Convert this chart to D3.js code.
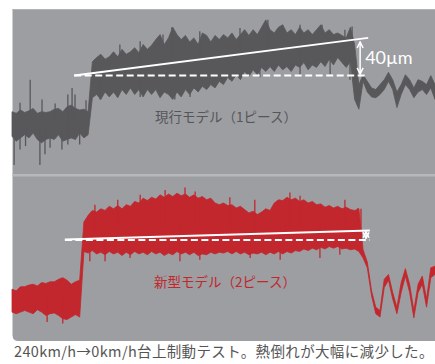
<!DOCTYPE html>
<html>
<head>
<meta charset="utf-8">
<script src="https://cdn.jsdelivr.net/npm/d3@7"></script>
<style>
  body { margin: 0; background: #fff; }
  text { font-family: "Noto Sans CJK JP", "Noto Sans", sans-serif; }
</style>
</head>
<body>
<div id="chart-area"></div>
<script>

var width = 435,
    height = 364;

// time axis is just sample index 0..100 (step 1)
// values are displacement in micrometres, 0 = start level of the braking run

// current model (1 piece): upper / lower edge of the noisy trace
var oldHi = [-44,-46,-42,-45,-43,-40,-46,-44,-45,-44,-41,-40,-44,-38,-36,-40,-42,-41,-44,
  17,22,26,20,23,29,23,32,26,29,34,28,38,32,37,44,50,38,46,59,50,44,49,41,46,38,52,49,41,49,44,
  50,46,52,44,50,56,49,56,50,59,68,56,52,59,62,52,56,50,59,52,56,50,56,62,52,56,50,52,49,46,59,
  38,-11,1,-7,-15,-17,-11,-5,4,-5,-20,-11,1,-5,-15,-5,-7,-11,0,-11];
var oldLo = [-74,-80,-76,-72,-76,-70,-78,-82,-78,-76,-78,-72,-80,-78,-76,-78,-70,-76,-72,
  -27,-23,-29,-20,-26,-20,-27,-17,-23,-15,-23,-17,-26,-17,-23,-17,-27,-20,-23,-29,-20,-26,-17,-23,-15,-20,-13,-17,-11,-15,-7,
  -11,-2,-7,1,-5,5,-1,7,1,10,5,11,5,13,7,11,5,13,10,16,7,13,10,17,11,20,13,22,16,10,17,
  -29,-41,-7,-20,-26,-27,-23,-17,-7,-17,-39,-23,-11,-17,-27,-20,-17,-23,-15,-29];
// thin spikes sticking out of the band [t, value]
var oldSpikes = [[0.5,-109],[1.9,-33],[1.9,-90],[3.2,-86],[4.3,-5],[6.6,-109],[7.1,-29],[7.8,-96],
  [9.0,-88],[10.2,-34],[11.8,-90],[13.2,-23],[13.2,-84],[14.2,-15],[14.9,-23],[16,-84],[17.5,-30],
  [20.8,-29],[25.5,38],[30.3,42],[30.3,-26],[35.7,50],[37.8,59],[38.5,-29],[42.1,-26],[44.4,54],
  [51.5,-5],[53.9,58],[58.6,-2],[60.5,68],[64,60],[68.1,62],[68.1,0],[73.3,62],[75.2,2],
  [78.7,56],[79.9,-5],[80.4,60]];

// new model (2 piece)
var newHi = [-58,-60,-55,-55,-53,-52,-54,-50,-51,-49,-49,-46,-44,-47,-52,-49,-47,
  24,32,38,36,40,38,43,40,44,40,45,43,49,47,53,50,54,52,57,54,58,55,59,56,58,54,57,53,55,51,
  53,47,45,47,44,45,41,43,39,35,37,33,36,40,38,47,51,50,54,51,53,49,51,47,49,45,46,42,44,41,
  43,40,42,39,38,40,
  -10,-25,-60,-80,-84,-46,-40,-62,-80,-50,-33,-52,-84,-52,-42,-70,-32,-30];
var newLo = [-86,-88,-86,-84,-86,-88,-83,-86,-90,-88,-87,-90,-94,-95,-92,-89,-92,
  -12,-14,-11,-15,-13,-16,-12,-15,-13,-17,-13,-16,-12,-15,-13,-16,-12,-15,-13,-17,
  -14,-16,-12,-15,-13,-16,-13,-17,-15,-16,-13,-15,-13,-14,-12,-15,-12,-15,-13,-16,
  -14,-15,-13,-16,-13,-15,-12,-15,-12,-14,-11,-12,-9,-11,-8,-10,-7,-9,-6,-8,
  -6,-9,-8,-10,-9,-12,
  -20,-32,-66,-88,-92,-56,-47,-70,-88,-62,-42,-62,-93,-62,-52,-80,-44,-40];
var newSpikes = [[8.3,-98],[12,-100],[19.6,45],[25,51],[30.3,57],[36.2,63],[40.9,66],[43.3,61],
  [51.5,54],[57.4,51],[65.7,60],[68.1,56],[78.7,51],[81.8,41],[82.5,40],
  [18.4,-24],[22,-24],[27.9,-20],[39.7,-24],[44.4,-22],[56.3,-20],[63.4,-22],[72.8,-20],[77.5,-16]];

// reference lines [t, value]
var oldTrend = [[14.7, 0], [84.2, 46]];
var oldBase  = [[14.7, 0], [84.2, 0]];
var oldGap   = { t: 82.3, from: 2, to: 41, label: "40\u00b5m" };

var newTrend = [[12.5, 2.6], [84.6, 13.5]];
var newBase  = [[12.5, 2], [84.6, 2]];
var newGap   = { t: 83.7, from: 4, to: 12 };

var labels = ["現行モデル（1ピース）", "新型モデル（2ピース）"];
var caption = "240km/h→0km/h台上制動テスト。熱倒れが大幅に減少した。";

var grey = "#9d9ea1",
    darkTrace = "#58585b",
    redTrace = "#c1272d";

var svg = d3.select("#chart-area").append("svg")
    .attr("width", width)
    .attr("height", height);

var x = d3.scaleLinear().domain([0, 100]).range([12, 435]);
var yTop = d3.scaleLinear().domain([-120, 80]).range([174, 10]);
var yBot = d3.scaleLinear().domain([-120, 80]).range([340, 176]);

// panel background: sharp top, rounded bottom-left
var r = 6;
svg.append("path")
    .attr("d", "M12.5,9 H435 V341 H" + (12.5 + r) + " Q12.5,341 12.5," + (341 - r) + " Z")
    .attr("fill", grey);
svg.append("rect")
    .attr("x", 12.5).attr("y", 9).attr("width", 422.5).attr("height", 1)
    .attr("fill", "#b3b4b7");
svg.append("rect")
    .attr("x", 12.5).attr("y", 174).attr("width", 422.5).attr("height", 2.5)
    .attr("fill", "#b7b8bb");

svg.append("defs").append("marker")
    .attr("id", "head")
    .attr("viewBox", "0 0 10 10")
    .attr("refX", 9).attr("refY", 5)
    .attr("markerWidth", 5).attr("markerHeight", 5)
    .attr("orient", "auto-start-reverse")
  .append("path")
    .attr("d", "M1,1 L9,5 L1,9")
    .attr("fill", "none")
    .attr("stroke", "#fff")
    .attr("stroke-width", 2);

function drawPanel(hi, lo, spikes, y, color, trend, base, gap) {
  var g = svg.append("g");
  var pts = hi.map(function(h, i) { return { t: i, hi: h, lo: lo[i] }; });

  var area = d3.area()
      .x(d => x(d.t))
      .y0(d => y(d.lo))
      .y1(d => y(d.hi));

  g.append("path")
      .datum(pts)
      .attr("d", area)
      .attr("fill", color)
      .attr("stroke", color)
      .attr("stroke-width", 0.8);

  // spikes start from the middle of the band
  g.selectAll(".spike")
      .data(spikes)
      .enter()
      .append("line")
      .attr("class", "spike")
      .attr("x1", d => x(d[0]))
      .attr("x2", d => x(d[0]))
      .attr("y1", function(d) {
        var i = Math.round(d[0]);
        return y((hi[i] + lo[i]) / 2);
      })
      .attr("y2", d => y(d[1]))
      .attr("stroke", color)
      .attr("stroke-width", 1.3);

  var line = d3.line().x(d => x(d[0])).y(d => y(d[1]));

  g.append("path")
      .datum(base)
      .attr("d", line)
      .attr("stroke", "#fff")
      .attr("stroke-width", 2)
      .attr("stroke-dasharray", "7,3.5")
      .attr("fill", "none");

  g.append("path")
      .datum(trend)
      .attr("d", line)
      .attr("stroke", "#fff")
      .attr("stroke-width", 2)
      .attr("fill", "none");

  g.append("line")
      .attr("x1", x(gap.t)).attr("x2", x(gap.t))
      .attr("y1", y(gap.from)).attr("y2", y(gap.to))
      .attr("stroke", "#fff")
      .attr("stroke-width", 1.5)
      .attr("marker-start", "url(#head)")
      .attr("marker-end", "url(#head)");

  return g;
}

var gTop = drawPanel(oldHi, oldLo, oldSpikes, yTop, darkTrace, oldTrend, oldBase, oldGap);
drawPanel(newHi, newLo, newSpikes, yBot, redTrace, newTrend, newBase, newGap);

gTop.append("text")
    .attr("x", x(oldGap.t) + 5)
    .attr("y", (yTop(oldGap.from) + yTop(oldGap.to)) / 2 + 6)
    .attr("fill", "#fff")
    .style("font-family", "Lato, 'Open Sans', sans-serif")
    .style("font-size", "18px")
    .text(oldGap.label);

svg.append("text")
    .attr("x", 226).attr("y", 122)
    .attr("text-anchor", "middle")
    .attr("fill", "#55565a")
    .style("font-size", "13.5px")
    .text(labels[0]);

svg.append("text")
    .attr("x", 225).attr("y", 287)
    .attr("text-anchor", "middle")
    .attr("fill", redTrace)
    .style("font-size", "13.5px")
    .text(labels[1]);

svg.append("text")
    .attr("x", 14).attr("y", 357)
    .attr("fill", "#555")
    .style("font-size", "14.5px")
    .style("letter-spacing", "0.35px")
    .text(caption);

</script>
</body>
</html>
